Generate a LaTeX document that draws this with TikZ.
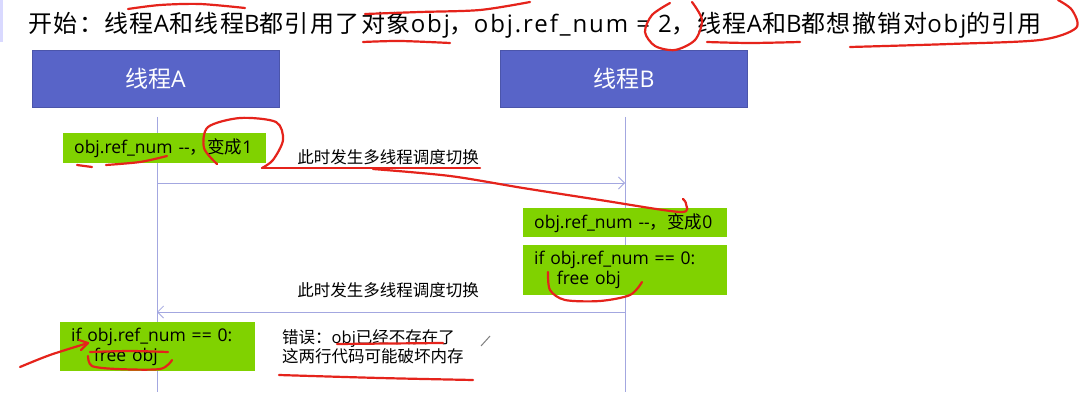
\documentclass[tikz,border=0pt]{standalone}
\usepackage{fontspec}
\setmainfont{Open Sans}
\newfontfamily\cjk{Noto Sans CJK SC}
\newfontfamily\titlelatin[LetterSpace=8]{Open Sans}
\newfontfamily\titlecjk[LetterSpace=6]{Noto Sans CJK SC}
\newcommand\zh[1]{{\cjk #1}}
\usetikzlibrary{arrows.meta}
\definecolor{threadblue}{HTML}{5864C8}
\definecolor{lifeline}{HTML}{A3A7E0}
\definecolor{codegreen}{HTML}{80D200}
\definecolor{inkred}{HTML}{E5231B}

\begin{document}
\begin{tikzpicture}[x=1pt, y=-1pt,
    thread/.style={fill=threadblue, draw=threadblue!85!black, line width=0.6pt, text=white,
        font=\fontsize{23}{26}\selectfont, minimum width=247pt, minimum height=57pt, inner sep=0pt},
    codebox/.style={fill=codegreen, anchor=north west, inner xsep=11pt, inner ysep=0pt,
        align=left, font=\fontsize{17.5}{20}\selectfont},
    note/.style={font=\fontsize{16.5}{20}\selectfont, inner sep=0pt},
    life/.style={draw=lifeline, line width=0.8pt},
    msg/.style={draw=lifeline, line width=0.8pt, -{Straight Barb[length=6pt, width=12pt]}},
    penstroke/.style={draw=inkred, line width=2.2pt, line cap=round, line join=round}]
    \useasboundingbox (0,0) rectangle (1084,417);
    \fill[white] (0,0) rectangle (1084,417);
    \fill[blue!15] (0,0) rectangle (3,42);

    % 标题
    \node[anchor=west, inner sep=0pt, font=\titlelatin\fontsize{24}{27}\selectfont] (title) at (28,25)
        {\let\cjk\titlecjk\zh{开始：线程}A\zh{和线程}B\zh{都引用了对象}obj\zh{，}obj.ref\_num = 2\zh{，线程}A\zh{和}B\zh{都想撤销对}obj\zh{的引用}};

    % 两个线程
    \node[thread] (tA) at (155.5,78.5) {\zh{线程}A};
    \node[thread] (tB) at (624,78.5) {\zh{线程}B};

    % 生命线
    \coordinate (lA top) at (157,117);
    \coordinate (lA end) at (157,392);
    \coordinate (lB top) at (625,117);
    \coordinate (lB end) at (625,392);
    \draw[life] (lA top) -- (lA end);
    \draw[life] (lB top) -- (lB end);

    % 线程A：第一次减一
    \node[codebox, minimum height=30pt, text width=181pt] (decA) at (63,133) {obj.ref\_num -{}-\zh{，变成}1};

    % 切换到线程B
    \coordinate (s1A) at (157,183);
    \coordinate (s1B) at (625,183);
    \draw[msg] (s1A) -- (s1B);
    \node[note] (sw1) at (388,157) {\zh{此时发生多线程调度切换}};

    \node[codebox, minimum height=29pt, text width=182pt] (decB) at (523,208) {obj.ref\_num -{}-\zh{，变成}0};
    \node[codebox, minimum height=50pt, text width=182pt] (freeB) at (523,245)
        {if obj.ref\_num == 0:\\\hspace*{1.3em}free obj};

    % 切换回线程A
    \coordinate (s2B) at (625,312);
    \coordinate (s2A) at (157,312);
    \draw[msg] (s2B) -- (s2A);
    \node[note] (sw2) at (388,290) {\zh{此时发生多线程调度切换}};

    \node[codebox, minimum height=49pt, text width=173pt] (freeA) at (60,322)
        {if obj.ref\_num == 0:\\\hspace*{1.3em}free obj};
    \node[note, anchor=west, align=left, font=\fontsize{16.5}{19}\selectfont] (err) at (282,347)
        {\zh{错误：}obj\zh{已经不存在了}\\\zh{这两行代码可能破坏内存}};

    % 手写批注
    \draw[penstroke] plot[smooth] coordinates {(128,9) (160,5) (200,4) (245,8)};
    \draw[penstroke] plot[smooth] coordinates {(365,14) (420,12) (480,10) (530,2)};
    \draw[penstroke] plot[smooth] coordinates {(363,42) (400,41) (450,43)};
    \draw[penstroke] plot[smooth] coordinates {(670,3) (652,15) (645,32) (655,46) (675,50) (695,40) (702,20) (692,2)};
    \draw[penstroke] plot[smooth] coordinates {(707,42) (750,43) (800,42)};
    \draw[penstroke] plot[smooth] coordinates {(850,47) (950,44) (1040,40) (1076,28) (1072,10) (1058,0)};
    \draw[penstroke] (77,165) -- (92,167);
    \draw[penstroke] plot[smooth] coordinates {(106,165) (140,162) (167,156)};
    \draw[penstroke] plot[smooth] coordinates {(217,164) (204,148) (208,127) (240,118) (276,122) (283,140) (273,160) (262,168)};
    \draw[penstroke] plot[smooth] coordinates {(262,168) (350,168) (480,168)};
    \draw[penstroke] plot[smooth] coordinates {(373,169) (450,176) (523,188) (600,200) (680,212) (686,204) (683,199)};
    \draw[penstroke] plot[smooth] coordinates {(548,272) (550,290) (565,300) (600,301) (630,295) (642,282)};
    \draw[penstroke] plot[smooth] coordinates {(20,367) (50,355) (88,343)};
    \draw[penstroke] (79,340) -- (88,343) -- (81,350);
    \draw[penstroke] plot[smooth] coordinates {(90,352) (130,351) (168,352)};
    \draw[penstroke] plot[smooth] coordinates {(88,356) (92,366) (117,369) (160,369) (172,360)};
    \draw[penstroke] (337,344) -- (443,343);
    \draw[penstroke] plot[smooth] coordinates {(279,375) (380,378) (473,380)};
    \draw[gray, line width=1pt] (481,346) -- (490,336);
\end{tikzpicture}
\end{document}
